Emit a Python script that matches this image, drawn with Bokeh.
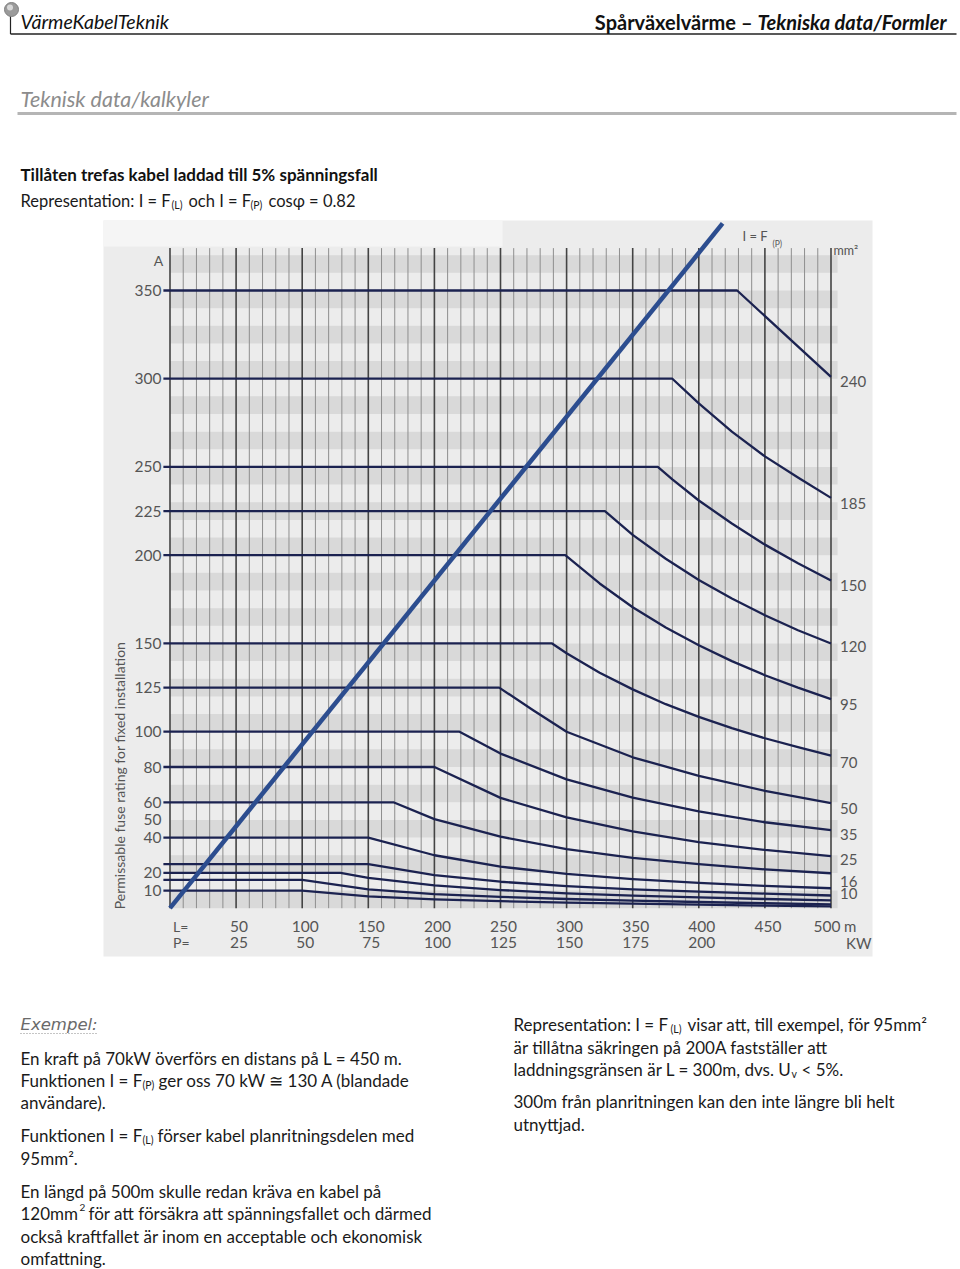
from math import pi
from bokeh.plotting import figure
from bokeh.models import Range1d
from bokeh.embed import file_html
from bokeh.resources import INLINE
from bokeh.core.properties import value

# ---------------- chart data ----------------
# cable cross-section (mm2) labelled at the right end of each curve
cable_sizes = ["240", "185", "150", "120", "95", "70", "50", "35", "25", "16", "10", "", "", "", ""]
# length L (m) of each curve vertex
cable_L = [
    [-5, 429, 500],
    [-5, 380, 400, 425, 450, 475, 500],
    [-5, 369, 380, 400, 425, 450, 475, 500],
    [-5, 329, 350, 375, 400, 425, 450, 475, 500],
    [-5, 299, 325, 350, 375, 400, 425, 450, 475, 500],
    [-5, 289, 300, 325, 350, 375, 400, 425, 450, 475, 500],
    [-5, 249, 275, 300, 350, 400, 450, 500],
    [-5, 219, 250, 300, 350, 400, 450, 500],
    [-5, 200, 250, 300, 350, 400, 450, 500],
    [-5, 169, 200, 250, 300, 350, 400, 450, 500],
    [-5, 150, 200, 250, 300, 350, 400, 450, 500],
    [-5, 150, 200, 250, 300, 350, 400, 450, 500],
    [-5, 129, 150, 200, 250, 300, 350, 400, 450, 500],
    [-5, 100, 150, 200, 250, 300, 350, 400, 450, 500],
    [-5, 100, 150, 200, 250, 300, 350, 400, 450, 500],
]
# permissible fuse rating I (A) at each vertex
cable_I = [
    [350, 350, 301],
    [300, 300, 286, 270, 256, 244, 232.5],
    [250, 250, 243, 231, 218, 206, 195.5, 185.7],
    [225, 225, 211.5, 198, 186, 175.5, 166, 157.5, 150],
    [200, 200, 184, 170.5, 159, 149, 140, 132, 125, 118.5],
    [150, 150, 144.5, 133.4, 124, 115.6, 108.4, 102, 96.3, 91.3, 86.5],
    [125, 125, 112, 100, 85.5, 75, 66.5, 59.5],
    [100, 100, 87.6, 73, 62.6, 54.8, 48.7, 44.2],
    [80, 80, 62.5, 51.5, 43.5, 37.5, 33, 29.5],
    [60, 60, 50.5, 40.5, 33.5, 28.5, 25, 22, 19.8],
    [40, 40, 30, 23.5, 19.5, 16.5, 14.3, 12.6, 11.3],
    [25, 25, 18.8, 15, 12.5, 10.7, 9.4, 8.3, 7.2],
    [20, 20, 17.2, 12.9, 10.3, 8.4, 7.1, 6.1, 5.2, 4.4],
    [16, 16, 10.7, 8, 6.4, 5.2, 4.3, 3.5, 2.8, 2.2],
    [10, 10, 6.7, 5, 4, 3.2, 2.6, 2, 1.5, 1.0],
]
# I = F(P): power P (kW) and current I (A)
diag_P = [0, 209]
diag_I = [0, 388]

# axis ticks
y_ticks = [350, 300, 250, 225, 200, 150, 125, 100, 80, 60, 50, 40, 20, 10]
L_ticks = [50, 100, 150, 200, 250, 300, 350, 400, 450, 500]
P_ticks = [25, 50, 75, 100, 125, 150, 175, 200]
grid_L = list(range(0, 501, 10))
band_lo = list(range(0, 361, 20))

# ---------------- figure: whole page ----------------
p = figure(width=960, height=1269,
           x_range=Range1d(-128.215, 597.96), y_range=Range1d(-204.71, 514.30),
           output_backend="svg", toolbar_location=None, min_border=0,
           x_axis_location=None, y_axis_location=None, title=None,
           outline_line_color=None, background_fill_color="white",
           border_fill_color="white")
p.grid.visible = False
p.extra_x_ranges = {"px": Range1d(0, 960)}
p.extra_y_ranges = {"py": Range1d(1269, 0)}

PG = dict(x_range_name="px", y_range_name="py")


def T(x, y, s, size=17, style="normal", color="#1a1a1a", align="left",
      font="Lato", baseline="middle", angle=0.0):
    p.text(x=[x], y=[y], text=[s], text_font=value(font),
           text_font_size=value(f"{size}px"), text_font_style=value(style),
           text_color=color, text_align=value(align),
           text_baseline=value(baseline), angle=angle, **PG)


# ---- header ----
p.segment(x0=[10], y0=[15], x1=[10], y1=[33.5], line_color="#222222", line_width=1.2, **PG)
p.segment(x0=[10], y0=[33.5], x1=[956], y1=[33.5], line_color="#222222", line_width=1.3, **PG)
p.scatter(x=[11], y=[9], size=14, fill_color="#9a9a9a", line_color="#808080", **PG)
p.scatter(x=[9.5], y=[7], size=6, fill_color="#d8d8d8", line_color=None, **PG)
T(20, 21, "VärmeKabelTeknik", 19.5, "italic", "#111111")
T(946, 21, "Tekniska data/Formler", 20, "bold italic", "#111111", "right")
T(752, 21, "Spårväxelvärme –", 20, "bold", "#111111", "right")

T(20, 98, "Teknisk data/kalkyler", 21.5, "italic", "#8c8c8c")
p.segment(x0=[17], y0=[113], x1=[956], y1=[113], line_color="#b5b5b5", line_width=3, **PG)

T(20, 174, "Tillåten trefas kabel laddad till 5% spänningsfall", 17, "bold", "#111111")
T(20, 200, "Representation: I = F", 16.5)
T(171, 204, "(L)", 10.5)
T(188, 200, "och I = F", 16.5)
T(250, 204, "(P)", 10.5)
T(268, 200, "cosφ = 0.82", 16.5)

# ---- scanned chart background ----
p.quad(left=[103], right=[872], top=[220], bottom=[956], fill_color="#ececec", line_color=None, **PG)
p.quad(left=[103], right=[502], top=[220], bottom=[246], fill_color="#f5f5f5", line_color=None, **PG)

# bands
p.quad(left=0, right=505, bottom=band_lo, top=[b + 10 for b in band_lo],
       fill_color="#d9d9d9", line_color=None)
# vertical grid
minor = [g for g in grid_L if g % 50]
major = [g for g in grid_L if g % 50 == 0]
p.segment(x0=minor, y0=0, x1=minor, y1=374, line_color="#8e8e8e", line_width=1)
p.segment(x0=major, y0=0, x1=major, y1=374, line_color="#444444", line_width=1.6)

# cable curves
p.multi_line(xs=cable_L, ys=cable_I, line_color="#1b2250", line_width=2.3, line_join="round")
# I = F(P)
p.line(x=[2 * v for v in diag_P], y=diag_I, line_color="#2c4d8f", line_width=4.5)

CH = dict(text_font=value("Lato"), text_color="#555555")
# left tick labels
p.text(x=-5, y=y_ticks, text=[str(v) for v in y_ticks], x_offset=-2,
       text_align=value("right"), text_baseline=value("middle"),
       text_font_size=value("15.5px"), **CH)
# bottom tick labels
p.text(x=L_ticks, y=0, text=[str(v) for v in L_ticks], x_offset=[3] * 9 + [-4], y_offset=18,
       text_align=value("center"), text_baseline=value("middle"),
       text_font_size=value("15.5px"), **CH)
p.text(x=[2 * v for v in P_ticks], y=0, text=[str(v) for v in P_ticks], x_offset=3, y_offset=34.5,
       text_align=value("center"), text_baseline=value("middle"),
       text_font_size=value("15.5px"), **CH)
p.text(x=[0, 0], y=[0, 0], text=["L=", "P="], x_offset=3, y_offset=[18, 34.5],
       text_align=value("left"), text_baseline=value("middle"),
       text_font_size=value("14px"), **CH)
p.text(x=[500, 500], y=[0, 0], text=["m", "KW"], x_offset=[13, 15], y_offset=[18, 34.5],
       text_align=value("left"), text_baseline=value("middle"),
       text_font_size=value("15px"), **CH)
# right cable labels
lab_idx = [i for i, s in enumerate(cable_sizes) if s]
lab_dy = [5, 5.5, 5.5, 3.5, 5.5, 7, 5, 4, 3.5, 8, 5]
p.text(x=500, y=[cable_I[i][-1] for i in lab_idx], text=[cable_sizes[i] for i in lab_idx],
       x_offset=9, y_offset=lab_dy, text_align=value("left"), text_baseline=value("middle"),
       text_font_size=value("15px"), **CH)

T(158, 260, "A", 14, color="#555555", align="center")
T(833, 250, "mm²", 12.5, color="#555555")
T(742, 235, "I = F", 13, color="#555555")
T(772, 243, "(P)", 8.5, color="#555555")
T(118.5, 775, "Permissable fuse rating for fixed installation", 14, color="#555555",
  align="center", angle=pi / 2)

# ---- example text ----
T(20, 1024, "Exempel:", 16.5, "italic", "#6a6a6a", font="DejaVu Sans")
p.segment(x0=[20], y0=[1033], x1=[98], y1=[1033], line_color="#8a8a8a", line_width=1.2,
          line_dash="1 2", **PG)
T(20, 1058, "En kraft på 70kW överförs en distans på L = 450 m.")
T(20, 1080, "Funktionen I = F")
T(142, 1084, "(P)", 10.5)
T(158, 1080, "ger oss 70 kW ≅ 130 A (blandade")
T(20, 1102, "användare).")
T(20, 1135, "Funktionen I = F")
T(142, 1139, "(L)", 10.5)
T(157, 1135, "förser kabel planritningsdelen med")
T(20, 1158, "95mm².")
T(20, 1191, "En längd på 500m skulle redan kräva en kabel på")
T(20, 1213, "120mm")
T(79, 1207, "2", 10)
T(88, 1213, "för att försäkra att spänningsfallet och därmed")
T(20, 1236, "också kraftfallet är inom en acceptable och ekonomisk")
T(20, 1258, "omfattning.")

T(513, 1024, "Representation: I = F")
T(670, 1028, "(L)", 10.5)
T(687, 1024, "visar att, till exempel, för 95mm²")
T(513, 1047, "är tillåtna säkringen på 200A fastställer att")
T(513, 1069, "laddningsgränsen är L = 300m, dvs. U")
T(791, 1073, "v", 10.5)
T(801, 1069, "< 5%.")
T(513, 1101, "300m från planritningen kan den inte längre bli helt")
T(513, 1124, "utnyttjad.")

with open("out.html", "w", encoding="utf-8") as f:
    f.write(file_html(p, INLINE, "Spårväxelvärme"))
